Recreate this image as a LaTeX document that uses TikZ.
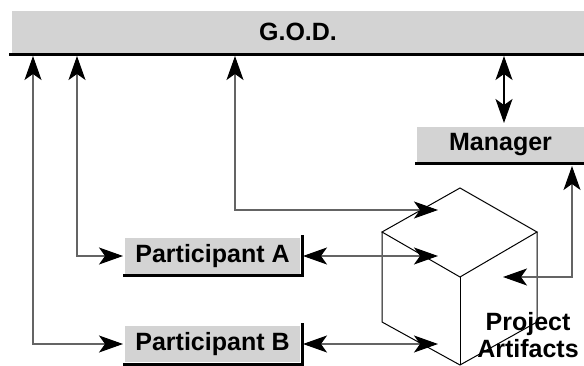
\documentclass[tikz,border=0pt]{standalone}
\usepackage{fontspec}
\setmainfont{Liberation Sans}
\usetikzlibrary{arrows.meta,calc}
\definecolor{barfill}{RGB}{211,211,211}
\definecolor{connline}{RGB}{100,100,100}
\tikzset{
  bar/.style={fill=barfill, draw=none, inner sep=0pt, outer sep=0pt,
    font=\fontsize{25}{28}\selectfont\bfseries},
  shadowline/.style={draw=black, line width=3pt},
  conn/.style={draw=connline, line width=1.1pt, {Stealth[length=24pt, width=17pt, inset=6pt, color=black]}-{Stealth[length=24pt, width=17pt, inset=6pt, color=black]}},
  cubeline/.style={draw=black, line width=1pt, line join=miter},
  lbl/.style={inner sep=0pt, align=center, font=\fontsize{25}{27}\selectfont\bfseries}
}
\begin{document}
\begin{tikzpicture}[x=1pt, y=-1pt]
\useasboundingbox (0,0) rectangle (584,366);

% boxes
\node[bar, minimum width=572pt, minimum height=42pt] (god) at (298,32) {G.O.D.};
\node[bar, minimum width=167pt, minimum height=35pt] (mgr) at (500.5,144.5) {Manager};
\node[bar, minimum width=175pt, minimum height=36pt] (pa) at (212.5,256) {Participant A};
\node[bar, minimum width=175pt, minimum height=36pt] (pb) at (212.5,344) {Participant B};

% box shadow lines
\draw[shadowline] ([xshift=-3pt,yshift=-1.5pt]god.south west) -- ([yshift=-1.5pt]god.south east);
\draw[shadowline] ([xshift=-2pt,yshift=-1.5pt]mgr.south west) -- ([yshift=-1.5pt]mgr.south east);
\draw[shadowline] ([shift={(-2pt,-2pt)}]pa.south west) -- ([shift={(2pt,-2pt)}]pa.south east) -- ([shift={(2pt,3pt)}]pa.north east);
\draw[shadowline] ([shift={(-2pt,-2pt)}]pb.south west) -- ([shift={(2pt,-2pt)}]pb.south east) -- ([shift={(2pt,3pt)}]pb.north east);

% cube
\coordinate (cT) at (460,188);
\coordinate (cUL) at (382,232);
\coordinate (cUR) at (537,232);
\coordinate (cC) at (460,277);
\coordinate (cLL) at (382,322);
\coordinate (cB) at (460,365);
\coordinate (cLR) at (537,322);
\draw[cubeline] (cUL) -- (cT) -- (cUR) -- (cC) -- (cUL) -- cycle;
\draw[cubeline] (cUL) -- (cLL) -- (cB) -- (cLR) -- (cUR);
\draw[cubeline] (cC) -- (cB);
\node[lbl] (art) at (528,335) {Project\\Artifacts};

% connector end points
\coordinate (g1) at (33,56);
\coordinate (g2) at (77,56);
\coordinate (g3) at (235,56);
\coordinate (g4) at (504,56);
\coordinate (m3) at (572,166);
\coordinate (aTop) at (438,210);
\coordinate (aMid) at (438,256);
\coordinate (aLow) at (438,344);
\coordinate (aRight) at (503,277);

% connectors
\draw[conn] (g1) |- ([xshift=-2pt]pb.west);
\draw[conn] (g2) |- ([xshift=-2pt]pa.west);
\draw[conn] (g3) |- (aTop);
\draw[conn] ([xshift=3pt]pa.east) -- (aMid);
\draw[conn] ([xshift=3pt]pb.east) -- (aLow);
\draw[conn, draw=black] (g4) -- ([yshift=4pt]mgr.north -| g4);
\draw[conn] (m3) |- (aRight);
\end{tikzpicture}
\end{document}
